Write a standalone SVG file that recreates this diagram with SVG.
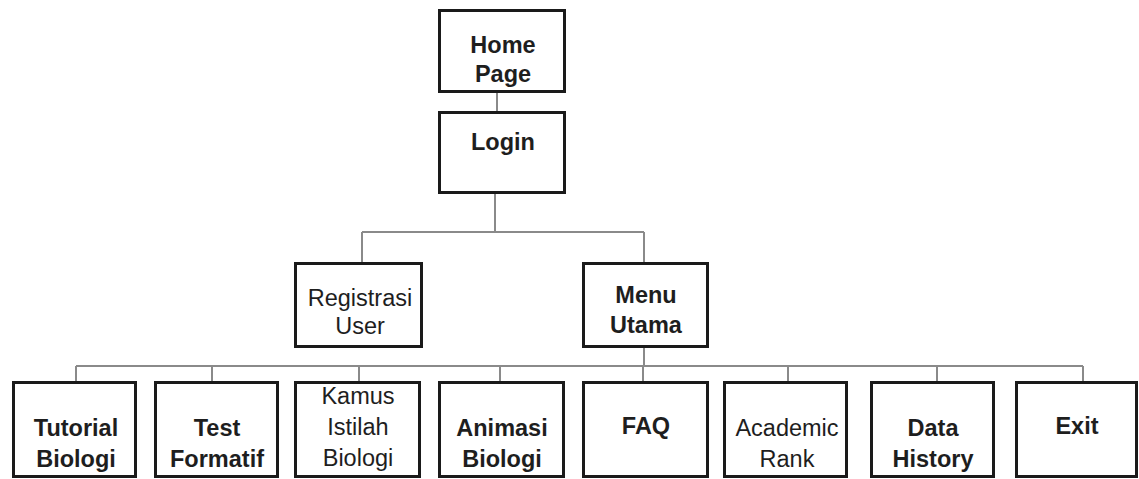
<svg xmlns="http://www.w3.org/2000/svg" width="1139" height="479" viewBox="0 0 1139 479">
<style>
.box{fill:#fff;stroke:#1a1a1a;stroke-width:3}
.con{fill:none;stroke:#8a8a8a;stroke-width:2}
text{font-family:"Liberation Sans",Arial,sans-serif;font-size:23.5px;fill:#1e1e1e;text-anchor:middle}
.b{font-weight:bold}
</style>
<rect width="1139" height="479" fill="#fff"/>
<g id="connectors">
<path class="con" d="M497 92V112"/>
<path class="con" d="M495 193V232M362 232H644M362 232V263M644 232V263"/>
<path class="con" d="M644 347V366M76 366H1083M76 366V382M212 366V382M359 366V382M500 366V382M643 366V382M788 366V382M937 366V382M1083 366V382"/>
</g>
<g id="home"><rect class="box" x="439.5" y="10.5" width="125" height="81"/><text class="b" x="503" y="53">Home</text><text class="b" x="503" y="82">Page</text></g>
<g id="login"><rect class="box" x="439.5" y="112.5" width="125" height="80"/><text class="b" x="503" y="150">Login</text></g>
<g id="registrasi"><rect class="box" x="295.5" y="263.5" width="126" height="83"/><text x="360" y="306">Registrasi</text><text x="360" y="334">User</text></g>
<g id="menu"><rect class="box" x="583.5" y="263.5" width="124" height="83"/><text class="b" x="646" y="303">Menu</text><text class="b" x="646" y="333">Utama</text></g>
<g id="tutorial"><rect class="box" x="13.5" y="382.5" width="122" height="94"/><text class="b" x="76" y="436">Tutorial</text><text class="b" x="76" y="467">Biologi</text></g>
<g id="test"><rect class="box" x="155.5" y="382.5" width="122" height="94"/><text class="b" x="217" y="436">Test</text><text class="b" x="217" y="467">Formatif</text></g>
<g id="kamus"><rect class="box" x="295.5" y="382.5" width="124" height="94"/><text x="358" y="404">Kamus</text><text x="358" y="435">Istilah</text><text x="358" y="466">Biologi</text></g>
<g id="animasi"><rect class="box" x="439.5" y="382.5" width="124" height="94"/><text class="b" x="502" y="436">Animasi</text><text class="b" x="502" y="467">Biologi</text></g>
<g id="faq"><rect class="box" x="583.5" y="382.5" width="124" height="94"/><text class="b" x="646" y="434">FAQ</text></g>
<g id="academic"><rect class="box" x="724.5" y="382.5" width="122" height="94"/><text x="787" y="436">Academic</text><text x="787" y="467">Rank</text></g>
<g id="data"><rect class="box" x="871.5" y="382.5" width="122" height="94"/><text class="b" x="933" y="436">Data</text><text class="b" x="933" y="467">History</text></g>
<g id="exit"><rect class="box" x="1016.5" y="382.5" width="120" height="94"/><text class="b" x="1077" y="434">Exit</text></g>
</svg>
